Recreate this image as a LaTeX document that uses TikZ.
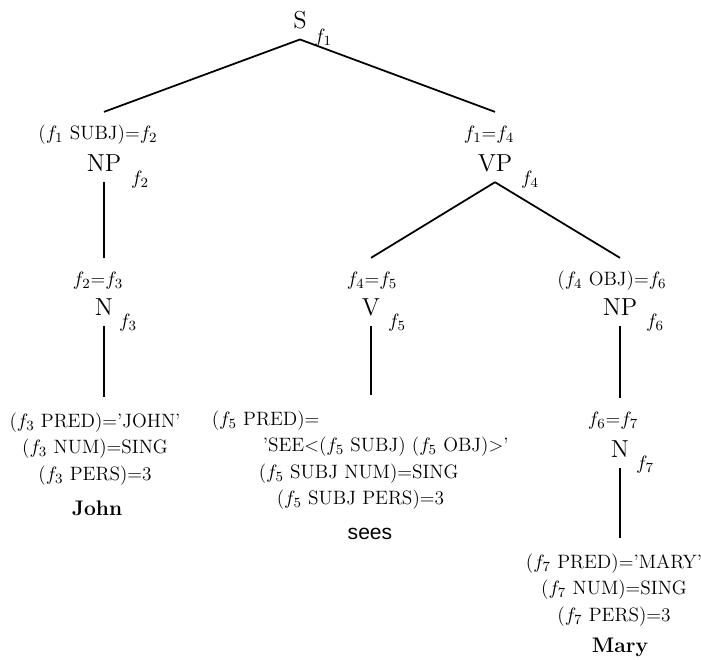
\documentclass[tikz,border=0pt]{standalone}
\usepackage{fontspec}
\newfontfamily\seesfont{Liberation Sans}

\tikzset{
  cat/.style={font=\fontsize{14}{16}\selectfont, inner sep=0pt, outer sep=6pt},
  ann/.style={font=\fontsize{11}{14}\selectfont, inner sep=0pt, outer sep=7pt, text height=2ex, text depth=.6ex},
  flab/.style={font=\fontsize{11}{14}\selectfont, inner sep=0pt},
  feat/.style={font=\fontsize{11}{15.1}\selectfont, inner sep=0pt, outer sep=9pt, align=center},
  word/.style={font=\fontsize{12}{14}\selectfont\bfseries, inner sep=0pt},
  branch/.style={line width=1pt}
}

\begin{document}
\begin{tikzpicture}[x=0.02cm,y=-0.02cm]
\useasboundingbox (0,0) rectangle (701,660);

\node[cat] (S) at (300,20) {S};
\node[flab] (fS) at (323,38) {$f_1$};

\node[ann] (annNP) at (98,134) {($f_1$ SUBJ)=$f_2$};
\node[cat] (NPsubj) at (104,163) {NP};
\node[flab] (fNPsubj) at (140,180) {$f_2$};

\node[ann] (annVP) at (489,134) {$f_1$=$f_4$};
\node[cat] (VP) at (495,163) {VP};
\node[flab] (fVP) at (530,180) {$f_4$};

\node[ann] (annNj) at (98,280) {$f_2$=$f_3$};
\node[cat] (Nj) at (104,307) {N};
\node[flab] (fNj) at (128,323) {$f_3$};

\node[ann] (annV) at (372,280) {$f_4$=$f_5$};
\node[cat] (V) at (371,307) {V};
\node[flab] (fV) at (397,323) {$f_5$};

\node[ann] (annNPobj) at (612,280) {($f_4$ OBJ)=$f_6$};
\node[cat] (NPobj) at (620,307) {NP};
\node[flab] (fNPobj) at (655,323) {$f_6$};

\node[ann] (annNm) at (613,420) {$f_6$=$f_7$};
\node[cat] (Nm) at (620,449) {N};
\node[flab] (fNm) at (645,465) {$f_7$};

\node[feat, anchor=north] (featJohn) at (95,397)
  {($f_3$ PRED)='JOHN'\\($f_3$ NUM)=SING\\($f_3$ PERS)=3};
\node[word] (John) at (97,508) {John};

\node[feat, align=left, anchor=north west] (featSees) at (196,395)
  {($f_5$ PRED)=\\
   \hspace*{1.02cm}'SEE<($f_5$ SUBJ) ($f_5$ OBJ)>'\\
   \hspace*{0.94cm}($f_5$ SUBJ NUM)=SING\\
   \hspace*{1.30cm}($f_5$ SUBJ PERS)=3};
\node[inner sep=0pt, font=\fontsize{12}{14}\selectfont\seesfont] (sees) at (370,534) {sees};

\node[feat, anchor=north] (featMary) at (614,538)
  {($f_7$ PRED)='MARY'\\($f_7$ NUM)=SING\\($f_7$ PERS)=3};
\node[word] (Mary) at (620,647) {Mary};

\draw[branch] (S.south) -- (annNP.north -| NPsubj.south);
\draw[branch] (S.south) -- (annVP.north -| VP.south);
\draw[branch] (NPsubj.south) -- (annNj.north -| Nj.south);
\draw[branch] (VP.south) -- (annV.north -| V.south);
\draw[branch] (VP.south) -- (annNPobj.north -| NPobj.south);
\draw[branch] (NPobj.south) -- (annNm.north -| Nm.south);
\draw[branch] (Nj.south) -- (Nj.south |- featJohn.north);
\draw[branch] (V.south) -- (V.south |- featSees.north);
\draw[branch] (Nm.south) -- (Nm.south |- featMary.north);
\end{tikzpicture}
\end{document}
